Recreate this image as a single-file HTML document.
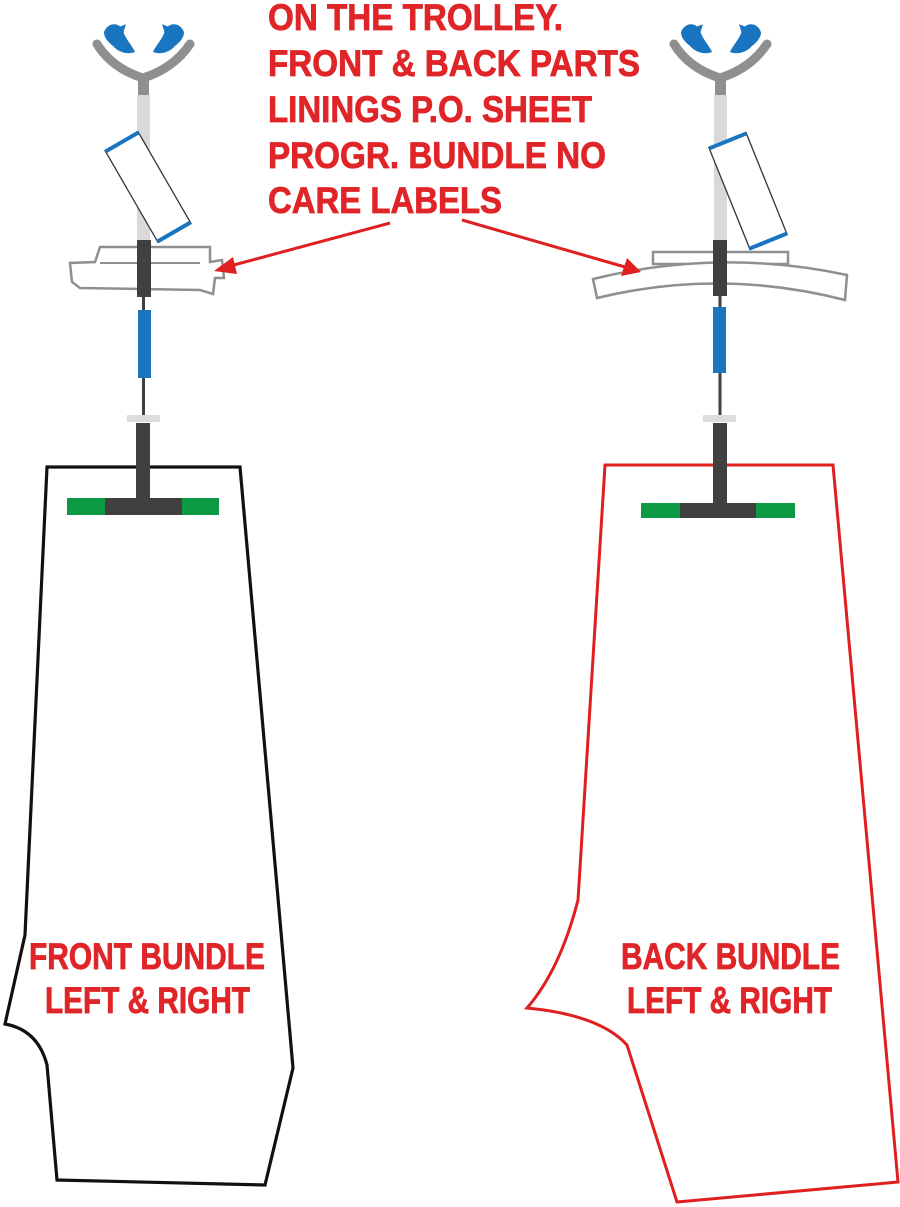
<!DOCTYPE html>
<html><head><meta charset="utf-8"><style>html,body{margin:0;padding:0;background:#fff}svg{display:block}</style></head>
<body>
<svg width="900" height="1207" viewBox="0 0 900 1207" xmlns="http://www.w3.org/2000/svg">
<defs>
<g id="bird"><path d="M0,2 C2,-5 10,-7 14,-3 L19,-5 L17,2 C19,8 24,13 27,19 C21,22 12,19 8,14 C4,11 0,7 0,2Z" fill="#1a75c0"/></g>
</defs>
<!-- LEFT HANGER -->
<path d="M97,44 C108,62 124,72 143,78 C162,72 178,62 190,44" fill="none" stroke="#8f8f8f" stroke-width="9" stroke-linecap="round"/>
<rect x="138" y="76" width="11" height="19" fill="#8f8f8f"/>
<use href="#bird" transform="translate(104,30) scale(1.15)"/>
<use href="#bird" transform="translate(184,30) scale(-1.15,1.15)"/>
<rect x="137" y="95" width="13" height="148" fill="#d9d9d9"/>
<g transform="translate(148,187) rotate(-30)">
<rect x="-19" y="-53" width="38" height="106" fill="#fff" stroke="#333" stroke-width="1.3"/>
<rect x="-19" y="-54" width="38" height="4" fill="#1a75c0"/>
<rect x="-19" y="50" width="38" height="4" fill="#1a75c0"/>
</g>
<path d="M100,247 L210,247 L210,262 L222,260 L224,278 L215,278 L213,294 L200,290 L80,288 L72,282 L70,263 L95,262 Z" fill="#fff" stroke="#8f8f8f" stroke-width="2.5"/>
<line x1="100" y1="263" x2="200" y2="263" stroke="#8f8f8f" stroke-width="2"/>
<rect x="137" y="240" width="14" height="57" fill="#404040"/>
<line x1="143.5" y1="297" x2="143.5" y2="415" stroke="#404040" stroke-width="3"/>
<rect x="138" y="310" width="13" height="68" fill="#1a75c0"/>
<rect x="127" y="415" width="33" height="7" fill="#dcdcdc"/>
<rect x="136" y="423" width="14" height="80" fill="#404040"/>
<rect x="67" y="498" width="152" height="17" fill="#404040"/>
<rect x="67" y="498" width="38" height="17" fill="#0d9a45"/>
<rect x="182" y="498" width="37" height="17" fill="#0d9a45"/>
<!-- RIGHT HANGER -->
<path d="M674,44 C685,62 701,72 720,78 C739,72 755,62 767,44" fill="none" stroke="#8f8f8f" stroke-width="9" stroke-linecap="round"/>
<rect x="715" y="76" width="11" height="19" fill="#8f8f8f"/>
<use href="#bird" transform="translate(681,30) scale(1.15)"/>
<use href="#bird" transform="translate(761,30) scale(-1.15,1.15)"/>
<rect x="714" y="95" width="13" height="148" fill="#d9d9d9"/>
<g transform="translate(748,191) rotate(-22)">
<rect x="-20" y="-55" width="40" height="110" fill="#fff" stroke="#333" stroke-width="1.3"/>
<rect x="-20" y="-56" width="40" height="4" fill="#1a75c0"/>
<rect x="-20" y="52" width="40" height="4" fill="#1a75c0"/>
</g>
<rect x="653" y="252" width="135" height="12" fill="#fff" stroke="#8f8f8f" stroke-width="2.5"/>
<path d="M593,279 Q720,248 847,275 L845,300 Q720,268 597,298 Z" fill="#fff" stroke="#8f8f8f" stroke-width="2.5"/>
<rect x="713" y="240" width="14" height="56" fill="#404040"/>
<line x1="720" y1="296" x2="720" y2="415" stroke="#404040" stroke-width="3"/>
<rect x="713" y="307" width="13" height="66" fill="#1a75c0"/>
<rect x="703" y="415" width="33" height="7" fill="#dcdcdc"/>
<rect x="713" y="423" width="14" height="85" fill="#404040"/>
<rect x="641" y="503" width="154" height="15" fill="#404040"/>
<rect x="641" y="503" width="39" height="15" fill="#0d9a45"/>
<rect x="756" y="503" width="39" height="15" fill="#0d9a45"/>
<!-- PANTS -->
<path d="M136,467 L47,467 L25,935 L5,1024 Q38,1030 47,1065 L57,1180 L265,1185 L293,1068 L240,467 L150,467" fill="none" stroke="#111" stroke-width="3.2" stroke-linejoin="miter"/>
<path d="M713,465 L605,465 L578,900 Q560,970 527,1008 Q600,1015 627,1045 L677,1202 L898,1182 L833,465 L727,465" fill="none" stroke="#e02020" stroke-width="3"/>
<!-- ARROWS -->
<line x1="390" y1="223" x2="230" y2="266" stroke="#e02020" stroke-width="3"/>
<polygon points="214,271 233,257 237,274" fill="#e02020"/>
<line x1="462" y1="220" x2="625" y2="267" stroke="#e02020" stroke-width="3"/>
<polygon points="641,272 621,276 627,258" fill="#e02020"/>
<!-- TEXT -->
<g font-family="Liberation Sans, Arial, sans-serif" font-weight="bold" fill="#e02529" font-size="37" stroke="#e02529" stroke-width="0.8">
<text x="268" y="30" textLength="295" lengthAdjust="spacingAndGlyphs">ON THE TROLLEY.</text>
<text x="268" y="76" textLength="372" lengthAdjust="spacingAndGlyphs">FRONT &amp; BACK PARTS</text>
<text x="268" y="122" textLength="324" lengthAdjust="spacingAndGlyphs">LININGS P.O. SHEET</text>
<text x="268" y="168" textLength="338" lengthAdjust="spacingAndGlyphs">PROGR. BUNDLE NO</text>
<text x="268" y="213" textLength="234" lengthAdjust="spacingAndGlyphs">CARE LABELS</text>
<text x="29" y="969" textLength="236" lengthAdjust="spacingAndGlyphs">FRONT BUNDLE</text>
<text x="45" y="1013" textLength="205" lengthAdjust="spacingAndGlyphs">LEFT &amp; RIGHT</text>
<text x="621" y="969" textLength="219" lengthAdjust="spacingAndGlyphs">BACK BUNDLE</text>
<text x="627" y="1013" textLength="205" lengthAdjust="spacingAndGlyphs">LEFT &amp; RIGHT</text>
</g>
</svg>
</body></html>
